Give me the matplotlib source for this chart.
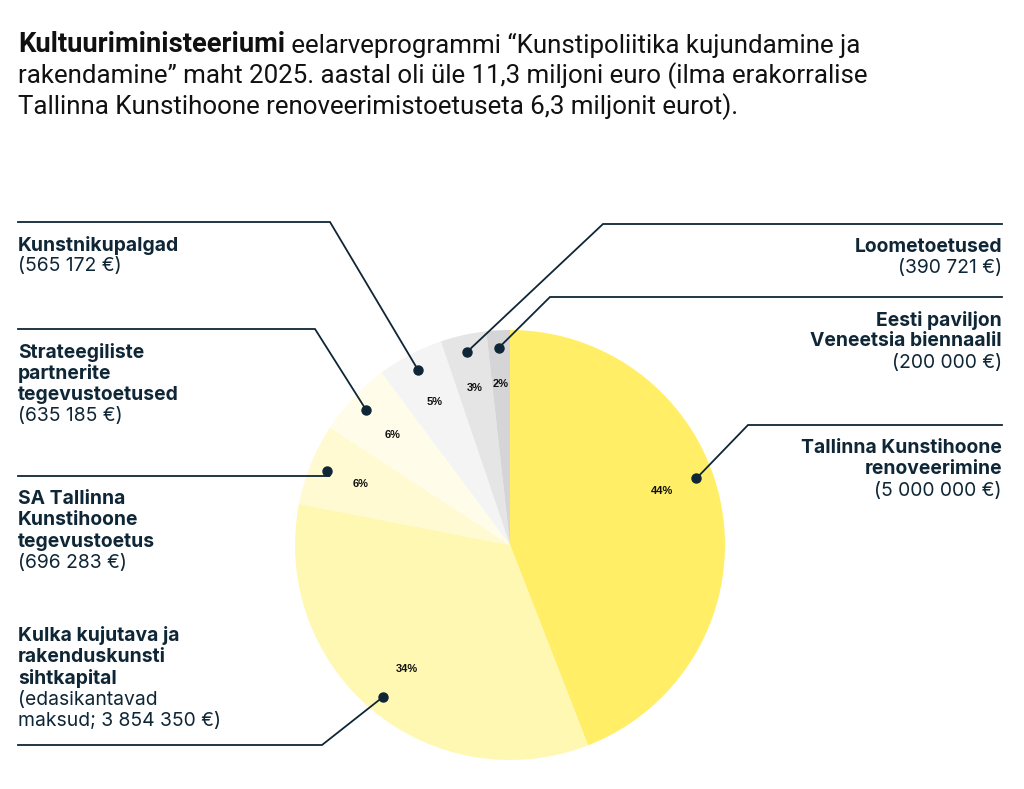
"""
Kunstipoliitika eelarveprogramm 2025 - pie with leader labels.
"""
import numpy as np
import matplotlib
matplotlib.use('Agg')
import matplotlib.pyplot as plt

# data
names = ['Tallinna Kunstihoone\nrenoveerimine',
         'Kulka kujutava ja\nrakenduskunsti\nsihtkapital',
         'SA Tallinna\nKunstihoone\ntegevustoetus',
         'Strateegiliste\npartnerite\ntegevustoetused',
         'Kunstnikupalgad',
         'Loometoetused',
         'Eesti paviljon\nVeneetsia biennaalil']
amounts_txt = ['(5 000 000 €)',
               '(edasikantavad\nmaksud; 3 854 350 €)',
               '(696 283 €)',
               '(635 185 €)',
               '(565 172 €)',
               '(390 721 €)',
               '(200 000 €)']
amounts = [5000000, 3854350, 696283, 635185, 565172, 390721, 200000]
colors = ['#FFEE66', '#FFF8B3', '#FFFAD2', '#FFFDE9', '#F4F4F4', '#E5E5E5', '#D5D5D7']

title_bold = 'Kultuuriministeeriumi'
title_lines = [' eelarveprogrammi “Kunstipoliitika kujundamine ja',
               'rakendamine” maht 2025. aastal oli üle 11,3 miljoni euro (ilma erakorralise',
               'Tallinna Kunstihoone renoveerimistoetuseta 6,3 miljonit eurot).']

# layout (figure pixels, y measured from top)
W, H = 1024, 789
cx, cy, R = 510, 545, 215
navy = '#0F2636'
# elbow point of leader line, line end x, text side, text above line?
layout = [
    dict(elbow=(748, 425), xend=1002, side='right', above=False),
    dict(elbow=(322, 745), xend=18, side='left', above=True),
    dict(elbow=(330, 476), xend=18, side='left', above=False),
    dict(elbow=(315, 329), xend=18, side='left', above=False),
    dict(elbow=(330, 222), xend=18, side='left', above=False),
    dict(elbow=(603, 224), xend=1002, side='right', above=False),
    dict(elbow=(550, 297), xend=1002, side='right', above=False),
]
angle_nudge = {0: 9}  # degrees, big slice label sits higher
line_h = 21.3
lab_fs = 13.9

fig = plt.figure(figsize=(W / 100, H / 100), dpi=100)
ax = fig.add_axes([0, 0, 1, 1])

wedges, _, autotexts = ax.pie(
    amounts, colors=colors, startangle=90, counterclock=False,
    center=(cx, H - cy), radius=R, autopct='%1.0f%%', pctdistance=0.75,
    wedgeprops=dict(linewidth=0), textprops=dict(fontsize=8, fontweight='bold',
                                                  color='#111111', family='Liberation Sans'))
ax.set_xlim(0, W)
ax.set_ylim(0, H)
ax.set_aspect('equal')
ax.axis('off')

for i, w in enumerate(wedges):
    mid = np.deg2rad((w.theta1 + w.theta2) / 2 + angle_nudge.get(i, 0))
    if i in angle_nudge:
        autotexts[i].set_position((cx + 0.75 * R * np.cos(mid), H - cy + 0.75 * R * np.sin(mid)))
    dx = cx + 0.92 * R * np.cos(mid)
    dy = H - cy + 0.92 * R * np.sin(mid)
    lay = layout[i]
    ex, ey = lay['elbow'][0], H - lay['elbow'][1]
    ax.plot([dx, ex, lay['xend']], [dy, ey, ey], color=navy, lw=1.3,
            solid_joinstyle='miter', zorder=5)
    ax.plot(dx, dy, 'o', color=navy, ms=6.5, zorder=6)

    ha = 'left' if lay['side'] == 'left' else 'right'
    rows = [(s, 'bold') for s in names[i].split('\n')] + \
           [(s, 'normal') for s in amounts_txt[i].split('\n')]
    if lay['above']:
        y0 = ey + 24 + (len(rows) - 1) * line_h
    else:
        y0 = ey - 23
    for k, (s, wt) in enumerate(rows):
        ax.text(lay['xend'], y0 - k * line_h, s, ha=ha, va='center', fontsize=lab_fs,
                fontweight=wt, color=navy, family='Inter')

# title, bold part and regular lines fitted to the reference widths
fam_title = ['Roboto', 'DejaVu Sans']
x0 = 18
tys = [45, 76, 107]
t_b = fig.text(x0 / W, 1 - tys[0] / H, title_bold, fontsize=20, fontweight='bold',
               color='#111111', family=fam_title, va='center', ha='left')
t_r = [fig.text(x0 / W, 1 - y / H, s, fontsize=20, color='#111111',
                family=fam_title, va='center', ha='left')
       for s, y in zip(title_lines, tys)]
fig.canvas.draw()
r = fig.canvas.get_renderer()
t_b.set_fontsize(20 * 267 / t_b.get_window_extent(r).width)
rfs = 20 * 850 / t_r[1].get_window_extent(r).width
for t in t_r:
    t.set_fontsize(rfs)
fig.canvas.draw()
t_r[0].set_x(t_b.get_window_extent(r).x1 / W)

fig.savefig('out.png', dpi=100)
